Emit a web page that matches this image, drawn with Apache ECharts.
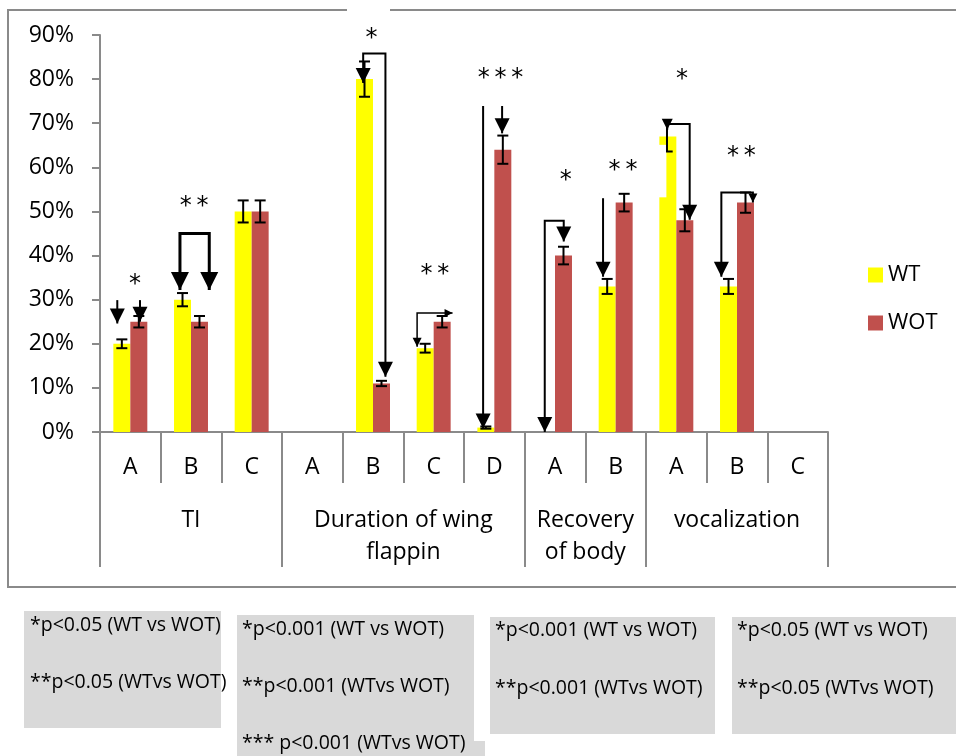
<!DOCTYPE html>
<html><head><meta charset="utf-8">
<script src="https://cdn.jsdelivr.net/npm/echarts@6/dist/echarts.min.js"></script>
<style>html,body{margin:0;padding:0;background:#fff}#c{width:956px;height:756px}</style>
</head><body><div id="c"></div>
<script>
// ---- data ----
const categories = ['A','B','C','A','B','C','D','A','B','A','B','C'];
const groupNames = ['TI','Duration of wing\nflappin','Recovery\nof body','vocalization'];
const groupSizes = [3,4,2,3];
const seriesNames = ['WT','WOT'];
const wtValues  = [20,30,50,0,80,19,1,0,33,67,33,0];
const wotValues = [25,25,50,0,11,25,64,40,52,48,52,0];
const wtErrors  = [1,1.5,2.5,0,4,1,0.25,0,1.7,0,1.7,0];
const wotErrors = [1.3,1.3,2.5,0,0.6,1.3,3.2,2,2,2.5,2.3,0];
const yMin = 0, yMax = 90, yStep = 10;

// annotation arrows/brackets: points in (category units, value %)
const arrowPaths = [
  [[0.285,29.9],[0.285,24.6]],
  [[0.659,29.9],[0.659,25]],
  [[1.318,32.2],[1.318,45],[1.801,45],[1.801,32.2]],
  [[4.338,79.1],[4.338,85.8],[4.705,85.8],[4.705,12.5]],
  [[5.227,19.3],[5.227,27],[5.811,27]],
  [[6.315,73.9],[6.315,0.8]],
  [[6.628,73.9],[6.628,67.7]],
  [[7.331,0],[7.331,47.9],[7.644,47.9],[7.644,43.2]],
  [[8.292,53],[8.292,35.2]],
  [[9.35,68.5],[9.35,69.8],[9.72,69.8],[9.72,48.1]],
  [[9.346,69.8],[9.346,63.6],[9.44,63.6]],
  [[10.242,35.2],[10.242,54.3],[10.762,54.3],[10.762,52]]
];
const arrowHeads = [[0,15],[0,15],[18,18],[15,15],[9,8],[0,15],[0,15],[15,15],[0,15],[11,15],[0,0],[15,9]];
const arrowWidths = [2,2,3,2,1.5,2,2,2,2,2,2,2];
const starX = [0.577,1.553,4.476,5.519,6.603,7.677,8.621,9.593,10.572];
const starY = [34.7,52.4,90.6,36.9,81.4,58.3,60.5,81.2,63.7];
const starText = ['*','**','*','**','***','*','**','*','**'];
const maskRects = [[9.214,53.2,9.336,65.1]];

const noteBoxes = [
  {rects:[[24,611,197,117]], lines:['*p<0.05 (WT vs WOT)','**p<0.05 (WTvs WOT)'], x:30, ys:[625,682]},
  {rects:[[237,615,237,128],[237,741,248,15]], lines:['*p<0.001 (WT vs WOT)','**p<0.001 (WTvs WOT)','*** p<0.001 (WTvs WOT)'], x:242, ys:[629,686,743]},
  {rects:[[490,617,225,117]], lines:['*p<0.001 (WT vs WOT)','**p<0.001 (WTvs WOT)'], x:495, ys:[630,688]},
  {rects:[[732,617,230,117]], lines:['*p<0.05 (WT vs WOT)','**p<0.05 (WTvs WOT)'], x:737, ys:[630,688]}
];

// ---- derived ----
const groupBounds = [0];
groupSizes.forEach(s => groupBounds.push(groupBounds[groupBounds.length-1] + s));
const groupCenters = groupSizes.map((s,i) => groupBounds[i] + s/2);
const nCat = categories.length;

const FONT = 'Open Sans';
const GRAY = '#8a8a8a';
const AXFS = 23;

function head(from, tip, s) {
  const dx = tip[0]-from[0], dy = tip[1]-from[1];
  const L = Math.hypot(dx,dy) || 1;
  const ux = dx/L, uy = dy/L, nx = -uy, ny = ux;
  const bx = tip[0]-ux*s, by = tip[1]-uy*s;
  return {type:'polygon', shape:{points:[[tip[0],tip[1]],[bx+nx*s/2,by+ny*s/2],[bx-nx*s/2,by-ny*s/2]]}, style:{fill:'#000'}};
}

const errData = [];
wtValues.forEach((v,i)=>{ if (wtErrors[i]>0) errData.push([i,v,wtErrors[i],-1]); });
wotValues.forEach((v,i)=>{ if (wotErrors[i]>0) errData.push([i,v,wotErrors[i],1]); });

const graphics = [
  {type:'rect', shape:{x:8,y:10,width:960,height:577}, style:{fill:'none', stroke:GRAY, lineWidth:2}, silent:true, z:0},
  {type:'rect', shape:{x:347,y:7,width:43,height:6}, style:{fill:'#fff'}, z:1}
];
noteBoxes.forEach(b=>{
  b.rects.forEach(r=>graphics.push({type:'rect', shape:{x:r[0],y:r[1],width:r[2],height:r[3]}, style:{fill:'#d9d9d9'}, z:1}));
  b.lines.forEach((t,k)=>graphics.push({type:'text', x:b.x, y:b.ys[k], style:{text:t, fontFamily:FONT, fontSize:19.5, fill:'#000', verticalAlign:'middle', align:'left'}, z:2}));
});

const chart = echarts.init(document.getElementById('c'), null, {renderer:'canvas'});
chart.setOption({
  animation:false,
  backgroundColor:'#fff',
  grid:{left:100, right:128, top:35, bottom:324, containLabel:false},
  legend:{orient:'vertical', left:868, top:264, padding:0, itemWidth:15, itemHeight:15, itemGap:26, icon:'rect',
    textStyle:{fontFamily:FONT, fontSize:22, color:'#000'}, data:seriesNames},
  xAxis:[
    {type:'category', data:categories, position:'bottom',
     axisLine:{show:true, lineStyle:{color:GRAY, width:2}},
     axisTick:{show:true, interval:0, length:51, lineStyle:{color:GRAY, width:2}},
     axisLabel:{interval:0, margin:24, fontFamily:FONT, fontSize:AXFS, color:'#000'}},
    {type:'value', min:0, max:nCat, position:'bottom',
     axisLine:{show:false}, splitLine:{show:false},
     axisTick:{show:true, customValues:groupBounds, length:135, lineStyle:{color:GRAY, width:2}},
     axisLabel:{customValues:groupCenters, margin:72, fontFamily:FONT, fontSize:AXFS, color:'#000', lineHeight:32, verticalAlign:'top',
       formatter:(v)=>{ const k = groupCenters.findIndex(c=>Math.abs(c-v)<1e-6); return k>=0 ? groupNames[k] : ''; }}}
  ],
  yAxis:{type:'value', min:yMin, max:yMax, interval:yStep,
    axisLine:{show:true, lineStyle:{color:GRAY, width:2}},
    axisTick:{show:true, length:8, lineStyle:{color:GRAY, width:2}},
    splitLine:{show:false},
    axisLabel:{formatter:'{value}%', margin:26, fontFamily:FONT, fontSize:AXFS, color:'#000'}},
  series:[
    {name:seriesNames[0], type:'bar', data:wtValues, barWidth:'28%', barGap:'0%', itemStyle:{color:'#FFFF00'}, z:2},
    {name:seriesNames[1], type:'bar', data:wotValues, barWidth:'28%', barGap:'0%', itemStyle:{color:'#C0504D'}, z:2},
    {type:'custom', name:'mask', xAxisIndex:1, z:3, silent:true, data:maskRects.map((_,i)=>[i]),
     renderItem:(params, api)=>{
       const r = maskRects[params.dataIndex];
       const a = api.coord([r[0],r[3]]), b = api.coord([r[2],r[1]]);
       return {type:'rect', shape:{x:a[0],y:a[1],width:b[0]-a[0],height:b[1]-a[1]}, style:{fill:'#fff'}};
     }},
    {type:'custom', name:'err', xAxisIndex:0, z:4, silent:true, data:errData,
     renderItem:(params, api)=>{
       const x = api.value(0), v = api.value(1), e = api.value(2), s = api.value(3);
       const band = api.size([1,0])[0];
       const c = api.coord([x, v]);
       const cx = c[0] + s*band*0.14;
       const top = api.coord([x, v+e])[1], bot = api.coord([x, v-e])[1];
       const cap = 5.5;
       const st = {stroke:'#000', lineWidth:2};
       return {type:'group', children:[
         {type:'line', shape:{x1:cx,y1:top,x2:cx,y2:bot}, style:st},
         {type:'line', shape:{x1:cx-cap,y1:top,x2:cx+cap,y2:top}, style:st},
         {type:'line', shape:{x1:cx-cap,y1:bot,x2:cx+cap,y2:bot}, style:st}
       ]};
     }},
    {type:'custom', name:'arrows', xAxisIndex:1, z:5, silent:true, data:arrowPaths.map((_,i)=>[i]),
     renderItem:(params, api)=>{
       const i = params.dataIndex;
       const pts = arrowPaths[i].map(p=>api.coord(p));
       const ch = [{type:'polyline', shape:{points:pts}, style:{stroke:'#000', lineWidth:arrowWidths[i], fill:null}}];
       const hs = arrowHeads[i][0], he = arrowHeads[i][1];
       if (he) ch.push(head(pts[pts.length-2], pts[pts.length-1], he));
       if (hs) ch.push(head(pts[1], pts[0], hs));
       return {type:'group', children:ch};
     }},
    {type:'custom', name:'stars', xAxisIndex:1, z:6, silent:true, clip:false, data:starX.map((_,i)=>[i]),
     renderItem:(params, api)=>{
       const i = params.dataIndex;
       const p = api.coord([starX[i], starY[i]]);
       return {type:'text', x:p[0], y:p[1]+6, style:{text:starText[i].split('').join('\u2009'), fontFamily:'DejaVu Sans', fontSize:24, fill:'#000', align:'center', verticalAlign:'middle'}};
     }}
  ],
  graphic:graphics
});
</script></body></html>
